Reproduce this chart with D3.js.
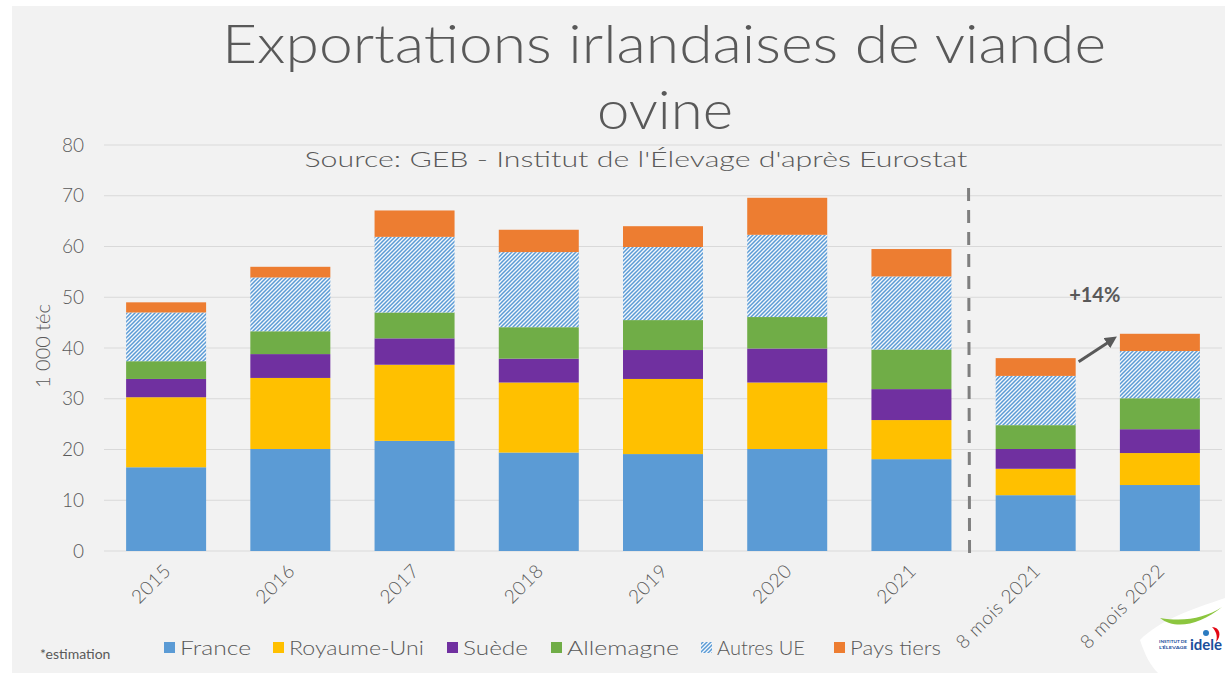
<!DOCTYPE html>
<html>
<head>
<meta charset="utf-8">
<script src="https://cdn.jsdelivr.net/npm/d3@7/dist/d3.min.js"></script>
<style>
  html, body { margin: 0; padding: 0; background: #fff; }
  svg { display: block; }
  text { font-family: "Lato", "Open Sans", "DejaVu Sans", sans-serif; fill: #595959; }
</style>
</head>
<body>
<div id="chart"></div>
<script>
// categories and series (1 000 téc)
var categories = ["2015", "2016", "2017", "2018", "2019", "2020", "2021", "8 mois 2021", "8 mois 2022"];
var france     = [16.5, 20.1, 21.7, 19.4, 19.1, 20.1, 18.1, 11.0, 13.0];
var royaumeUni = [13.8, 14.0, 15.0, 13.8, 14.8, 13.1, 7.7, 5.2, 6.3];
var suede      = [3.6, 4.7, 5.2, 4.7, 5.7, 6.7, 6.1, 3.9, 4.7];
var allemagne  = [3.5, 4.5, 5.1, 6.2, 5.9, 6.2, 7.8, 4.7, 6.1];
var autresUE   = [9.6, 10.6, 14.9, 14.8, 14.4, 16.2, 14.4, 9.7, 9.3];
var paysTiers  = [2.0, 2.1, 5.2, 4.4, 4.1, 7.3, 5.4, 3.5, 3.4];
var seriesNames = ["France", "Royaume-Uni", "Suède", "Allemagne", "Autres UE", "Pays tiers"];
var yTicks = [0, 10, 20, 30, 40, 50, 60, 70, 80];

var W = 1225, H = 673;
var colors = ["#5b9bd5", "#ffc000", "#7030a0", "#70ad47", "url(#hatch)", "#ed7d31"];

var svg = d3.select("#chart").append("svg").attr("width", W).attr("height", H);

// hatch pattern for "Autres UE"
var defs = svg.append("defs");
var pat = defs.append("pattern").attr("id", "hatch")
    .attr("patternUnits", "userSpaceOnUse").attr("width", 4).attr("height", 4);
pat.append("rect").attr("width", 4).attr("height", 4).attr("fill", "#f4f8fc");
pat.append("path").attr("d", "M-1,1 l2,-2 M0,4 l4,-4 M3,5 l2,-2")
    .attr("stroke", "#5b9bd5").attr("stroke-width", 1.5);
defs.append("marker").attr("id", "arrow").attr("viewBox", "0 0 10 10")
    .attr("refX", 5).attr("refY", 5).attr("markerWidth", 4).attr("markerHeight", 4)
    .attr("orient", "auto")
  .append("path").attr("d", "M0,0 L10,5 L0,10 z").attr("fill", "#595959");

// background panel
svg.append("rect").attr("x", 12).attr("y", 6).attr("width", W - 12).attr("height", H - 6)
    .attr("fill", "#f2f2f2");

// titles
svg.append("text").attr("x", 664).attr("y", 63).attr("text-anchor", "middle")
    .attr("font-size", 53).attr("font-weight", 300)
    .attr("textLength", 884).attr("lengthAdjust", "spacingAndGlyphs")
    .text("Exportations irlandaises de viande");
svg.append("text").attr("x", 665).attr("y", 129).attr("text-anchor", "middle")
    .attr("font-size", 53).attr("font-weight", 300)
    .attr("textLength", 136).attr("lengthAdjust", "spacingAndGlyphs")
    .text("ovine");
svg.append("text").attr("x", 636).attr("y", 167).attr("text-anchor", "middle")
    .attr("font-size", 22).attr("font-weight", 300)
    .attr("textLength", 663).attr("lengthAdjust", "spacingAndGlyphs")
    .text("Source: GEB - Institut de l'Élevage d'après Eurostat");

// scales
var x = d3.scaleBand().domain(categories).range([104, 1222]).paddingInner(0.356).paddingOuter(0.178);
var y = d3.scaleLinear().domain([0, 80]).range([551, 145]);

// gridlines
svg.append("g").selectAll("line").data(yTicks).join("line")
    .attr("x1", 104).attr("x2", 1222)
    .attr("y1", function(d){ return y(d); }).attr("y2", function(d){ return y(d); })
    .attr("stroke", "#d9d9d9").attr("stroke-width", 1.2);

// y axis labels
var yAxis = svg.append("g").attr("transform", "translate(104,0)")
    .call(d3.axisLeft(y).tickValues(yTicks).tickSize(0).tickPadding(20));
yAxis.select(".domain").remove();
yAxis.selectAll("text").attr("font-size", 19).attr("fill", "#595959")
    .style("font-family", "Lato, 'Open Sans', sans-serif").style("font-weight", 300);

svg.append("text").attr("transform", "translate(50,346) rotate(-90)")
    .attr("text-anchor", "middle").attr("font-size", 20).attr("font-weight", 300)
    .text("1 000 téc");

// stacked bars
var rows = categories.map(function(c, i){
  return { cat: c, s0: france[i], s1: royaumeUni[i], s2: suede[i], s3: allemagne[i], s4: autresUE[i], s5: paysTiers[i] };
});
var stack = d3.stack().keys(["s0", "s1", "s2", "s3", "s4", "s5"])(rows);

svg.append("g").selectAll("g").data(stack).join("g")
    .attr("fill", function(d, i){ return colors[i]; })
  .selectAll("rect").data(function(d){ return d; }).join("rect")
    .attr("x", function(d){ return x(d.data.cat); })
    .attr("width", x.bandwidth())
    .attr("y", function(d){ return y(d[1]); })
    .attr("height", function(d){ return y(d[0]) - y(d[1]); });

// x labels
svg.append("g").selectAll("text").data(categories).join("text")
    .attr("transform", function(d){ return "translate(" + (x(d) + x.bandwidth() / 2 + 6) + ",572) rotate(-45)"; })
    .attr("text-anchor", "end").attr("font-size", 19).attr("font-weight", 300)
    .attr("letter-spacing", 0.6)
    .text(function(d){ return d; });

// separator between full years and 8 months
var sepX = (x(categories[6]) + x.bandwidth() + x(categories[7])) / 2 - 5;
svg.append("line").attr("x1", sepX).attr("x2", sepX + 1).attr("y1", 188).attr("y2", 555)
    .attr("stroke", "#7f7f7f").attr("stroke-width", 3).attr("stroke-dasharray", "13,9");

// +14% annotation
var c7 = x(categories[7]) + x.bandwidth(), c8 = x(categories[8]);
svg.append("line")
    .attr("x1", c7 + 3).attr("y1", y(38.0 - 0.7))
    .attr("x2", c8 - 8).attr("y2", y(41.6))
    .attr("stroke", "#595959").attr("stroke-width", 3).attr("marker-end", "url(#arrow)");
svg.append("text").attr("x", (c7 + c8) / 2 - 3).attr("y", 302).attr("text-anchor", "middle")
    .attr("font-size", 20).attr("font-weight", "bold").text("+14%");

// legend
var legendX = [164, 273, 447, 551, 701, 834];
var legendW = [71, 135, 65, 112, 88, 91];
var lg = svg.append("g").selectAll("g").data(seriesNames).join("g")
    .attr("transform", function(d, i){ return "translate(" + legendX[i] + ",648)"; });
lg.append("rect").attr("x", 0).attr("y", -6).attr("width", 11).attr("height", 11)
    .attr("fill", function(d, i){ return colors[i]; });
lg.append("text").attr("x", 16).attr("y", 7).attr("font-size", 20).attr("font-weight", 300)
    .attr("textLength", function(d, i){ return legendW[i]; }).attr("lengthAdjust", "spacingAndGlyphs")
    .text(function(d){ return d; });

svg.append("text").attr("x", 40).attr("y", 659).attr("font-size", 14).text("*estimation");

// logo corner
var logo = svg.append("g");
logo.append("path").attr("d", "M1225,598 C1190,610 1160,620 1140,640 C1145,655 1150,665 1158,673 L1225,673 Z")
    .attr("fill", "#ffffff");
logo.append("path").attr("d", "M1160,618 C1175,630 1200,625 1222,607 C1205,618 1185,622 1160,618 Z")
    .attr("fill", "#8cc63f");
logo.append("path").attr("d", "M1212,627 C1220,627 1222,636 1216,642 C1218,636 1216,631 1212,627 Z")
    .attr("fill", "#e30613");
logo.append("circle").attr("cx", 1206).attr("cy", 633).attr("r", 3).attr("fill", "#2b7bc0");
logo.append("text").attr("x", 1190).attr("y", 650).attr("font-size", 15).attr("font-weight", "bold")
    .style("fill", "#1b4e9b").text("idele");
logo.append("text").attr("x", 1159).attr("y", 643).attr("font-size", 4.5).attr("font-weight", "bold")
    .attr("textLength", 28).attr("lengthAdjust", "spacingAndGlyphs")
    .style("fill", "#1b4e9b").text("INSTITUT DE");
logo.append("text").attr("x", 1159).attr("y", 649).attr("font-size", 4.5).attr("font-weight", "bold")
    .attr("textLength", 28).attr("lengthAdjust", "spacingAndGlyphs")
    .style("fill", "#1b4e9b").text("L'ÉLEVAGE");
</script>
</body>
</html>
